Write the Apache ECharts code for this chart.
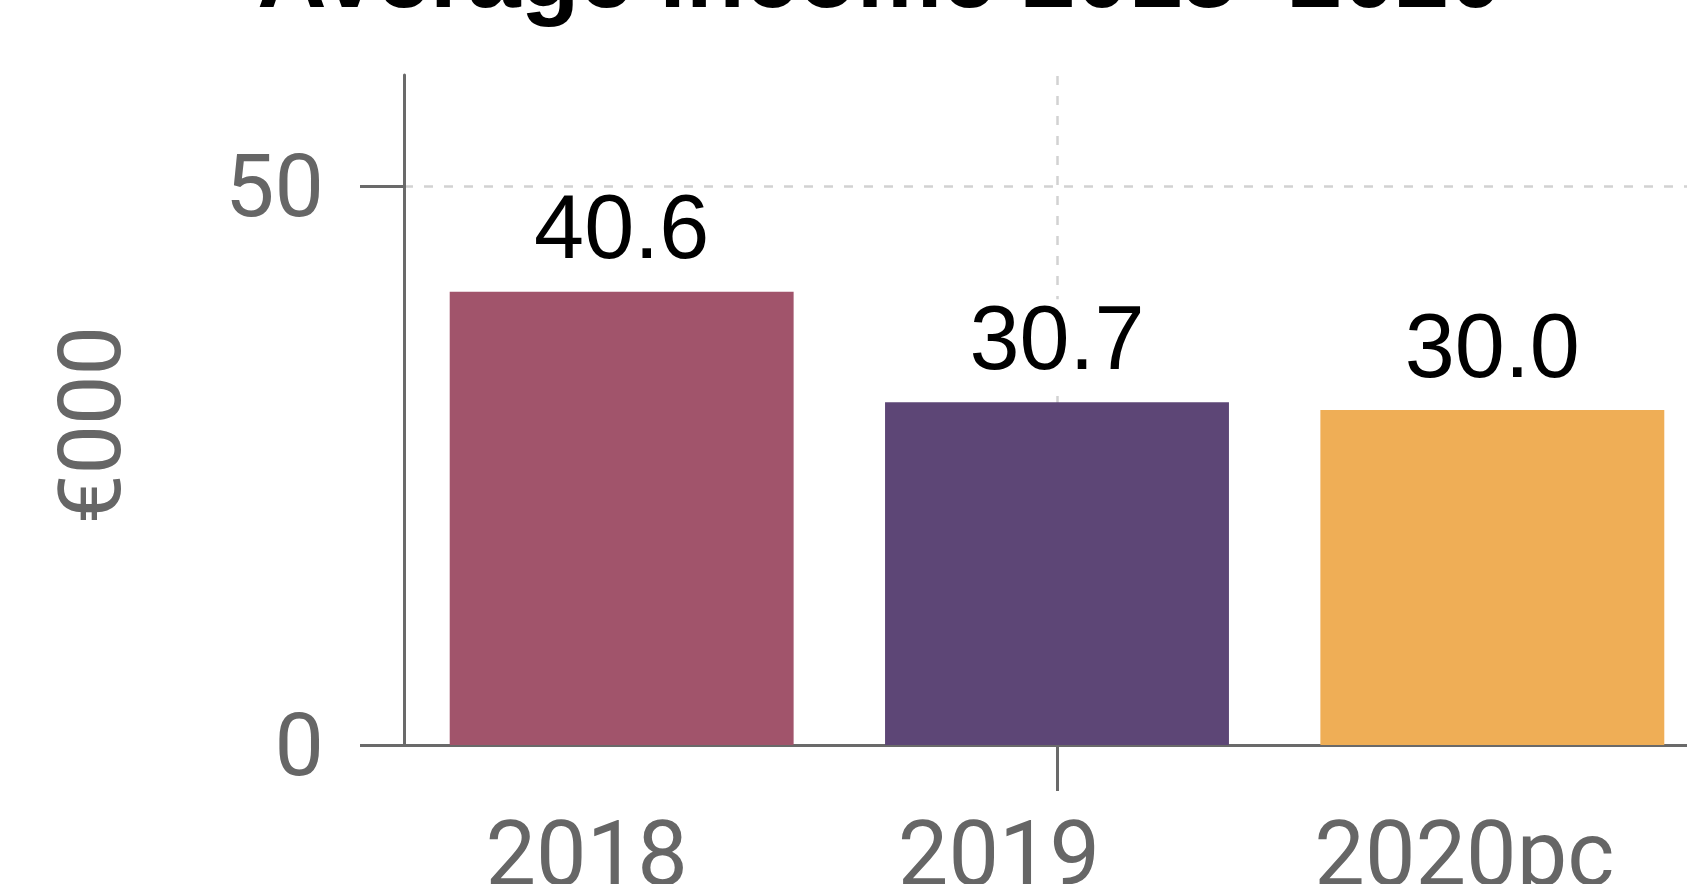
<!DOCTYPE html>
<html>
<head>
<meta charset="utf-8">
<title>Average income 2018–2020</title>
<script src="https://cdn.jsdelivr.net/npm/echarts@6/dist/echarts.min.js"></script>
<style>
  html, body { margin: 0; padding: 0; background: #ffffff; }
  #chart { width: 1687px; height: 884px; }
</style>
</head>
<body>
<div id="chart"></div>
<script>
// Data
const categories = ['2018', '2019', '2020pc'];
const incomeValues = [40.6, 30.7, 30.0];
const yTickValues = [0, 50];
const chartTitle = 'Average income 2018–2020';
const yAxisTitle = '€000';

// Styling
const barColors = ['#a1546b', '#5d4676', '#efae56'];
const labelShift = [-35, -58, -28]; // horizontal nudge of each category label, px
const axisGrey = '#6a6a6a';
const gridGrey = '#d2d2d2';
const highlightedCategory = 1;

const chart = echarts.init(document.getElementById('chart'), null, { renderer: 'canvas' });

const xData = categories.map((c, i) => {
  const s = labelShift[i];
  return {
    value: c,
    textStyle: { padding: s < 0 ? [0, -2 * s, 0, 0] : [0, 0, 0, 2 * s] }
  };
});

const option = {
  backgroundColor: '#ffffff',
  animation: false,
  title: {
    text: chartTitle,
    left: 880,
    textAlign: 'center',
    top: -67,
    padding: 0,
    textStyle: {
      fontFamily: 'Liberation Sans',
      fontWeight: 'bold',
      fontSize: 96,
      color: '#000000'
    }
  },
  grid: {
    left: 404,
    right: -23,
    top: 75,
    bottom: 139,
    containLabel: false,
    outerBoundsMode: 'none'
  },
  xAxis: {
    type: 'category',
    data: xData,
    axisLine: { show: true, lineStyle: { color: axisGrey, width: 3 } },
    axisTick: {
      show: true,
      alignWithLabel: true,
      interval: (i) => i === highlightedCategory,
      length: 46,
      lineStyle: { color: axisGrey, width: 3 }
    },
    axisLabel: {
      interval: 0,
      margin: 72,
      fontFamily: 'Roboto',
      fontSize: 90,
      color: '#666666'
    },
    splitLine: { show: false }
  },
  yAxis: {
    type: 'value',
    min: 0,
    max: 60,
    name: yAxisTitle,
    nameLocation: 'middle',
    nameGap: 262,
    nameTextStyle: {
      fontFamily: 'Roboto',
      fontSize: 88,
      color: '#666666',
      padding: [0, 30, 0, 0]
    },
    axisLine: { show: true, lineStyle: { color: axisGrey, width: 3 } },
    axisTick: {
      show: true,
      length: 44,
      customValues: yTickValues,
      lineStyle: { color: axisGrey, width: 3 }
    },
    axisLabel: {
      customValues: yTickValues,
      margin: 80,
      verticalAlign: 'top',
      lineHeight: 15,
      fontFamily: 'Roboto',
      fontSize: 88,
      color: '#666666'
    },
    splitLine: {
      show: true,
      lineStyle: { color: gridGrey, width: 2.5, type: [9, 11] }
    }
  },
  series: [{
    type: 'bar',
    z: 2,
    barCategoryGap: '21%',
    data: incomeValues.map((v, i) => ({ value: v, itemStyle: { color: barColors[i] } })),
    label: {
      show: true,
      position: 'top',
      distance: 13,
      formatter: (p) => p.value.toFixed(1),
      fontFamily: 'Liberation Sans',
      fontSize: 90,
      color: '#000000',
      backgroundColor: '#ffffff',
      padding: [0, 4]
    },
    markLine: {
      z: 1,
      silent: true,
      symbol: 'none',
      label: { show: false },
      lineStyle: { color: gridGrey, width: 2.5, type: [9, 11] },
      data: [{ xAxis: categories[highlightedCategory] }]
    }
  }]
};

chart.setOption(option);
</script>
</body>
</html>
